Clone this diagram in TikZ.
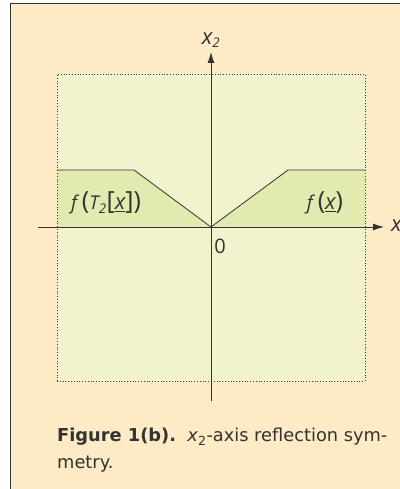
\documentclass[tikz,border=0pt]{standalone}
\usepackage{fontspec}
\setmainfont{Open Sans}
\newfontfamily\capfont{DejaVu Sans}
\usetikzlibrary{arrows.meta, positioning}
\definecolor{peach}{HTML}{FCEBC4}
\definecolor{paleGreen}{HTML}{F0F3CD}
\definecolor{funcGreen}{HTML}{E2EAB0}
\definecolor{ink}{HTML}{333333}
\newcommand{\bigparen}[1]{{\fontsize{25}{25}\selectfont\upshape #1}}
\newcommand{\bigx}{{\fontsize{22}{22}\selectfont x}}

\begin{document}
\begin{tikzpicture}[
    x=1pt, y=1pt,
    axis/.style={-{Latex[length=11pt, width=7pt]}, ink, line width=0.8pt},
    curve/.style={ink, line width=0.8pt},
    region/.style={draw=ink, dotted, line width=0.8pt, fill=paleGreen},
    label/.style={font=\fontsize{19}{20}\selectfont\itshape, inner sep=1pt, text=ink},
    caption/.style={font=\capfont\fontsize{17.8}{27}\selectfont, anchor=base west, inner sep=0pt, text=ink}
]
\useasboundingbox (0,0) rectangle (399,489);

% Panel and domain
\draw[ink, fill=peach, line width=0.8pt] (10,486) rectangle (420,-20);
\draw[region] (57,108) rectangle (365,415);

% Function points
\coordinate (origin) at (211,262);
\coordinate (lbase) at (57,262);
\coordinate (rbase) at (365,262);
\coordinate (lplat) at (57,319);
\coordinate (lknee) at (134,319);
\coordinate (rknee) at (288,319);
\coordinate (rplat) at (365,319);

\fill[funcGreen] (lbase) -- (lplat) -- (lknee) -- (origin) -- (rknee) -- (rplat) -- (rbase) -- cycle;
\draw[curve] (lplat) -- (lknee) -- (origin) -- (rknee) -- (rplat);
\draw[region, fill=none] (57,108) rectangle (365,415);

% Axes
\coordinate (x1start) at (38,262);
\coordinate (x1end) at (384,262);
\coordinate (x2start) at (211,88);
\coordinate (x2end) at (211,437);
\draw[axis] (x1start) -- (x1end);
\draw[axis] (x2start) -- (x2end);

\node[label, anchor=west] (x1) at (390,262) {\bigx\textsubscript{1}};
\node[label, above=3pt of x2end] (x2) {\bigx\textsubscript{2}};
\node[label, font=\fontsize{20}{20}\selectfont] (zero) at (220,243) {0};

% Function labels
\node[label] (fleft) at (106,286) {f \bigparen{(}T\textsubscript{2}\bigparen{[}\underline{\bigx}\bigparen{]}\bigparen{)}};
\node[label] (fright) at (325,286) {f \bigparen{(}\underline{\bigx}\bigparen{)}};

% Caption
\node[caption] (cap1) at (57,47) {\textbf{Figure 1(b).}\ \ \textit{x}\textsubscript{2}-axis reflection sym-};
\node[caption] (cap2) at ([yshift=-27pt]cap1.base west) {metry.};

\end{tikzpicture}
\end{document}
